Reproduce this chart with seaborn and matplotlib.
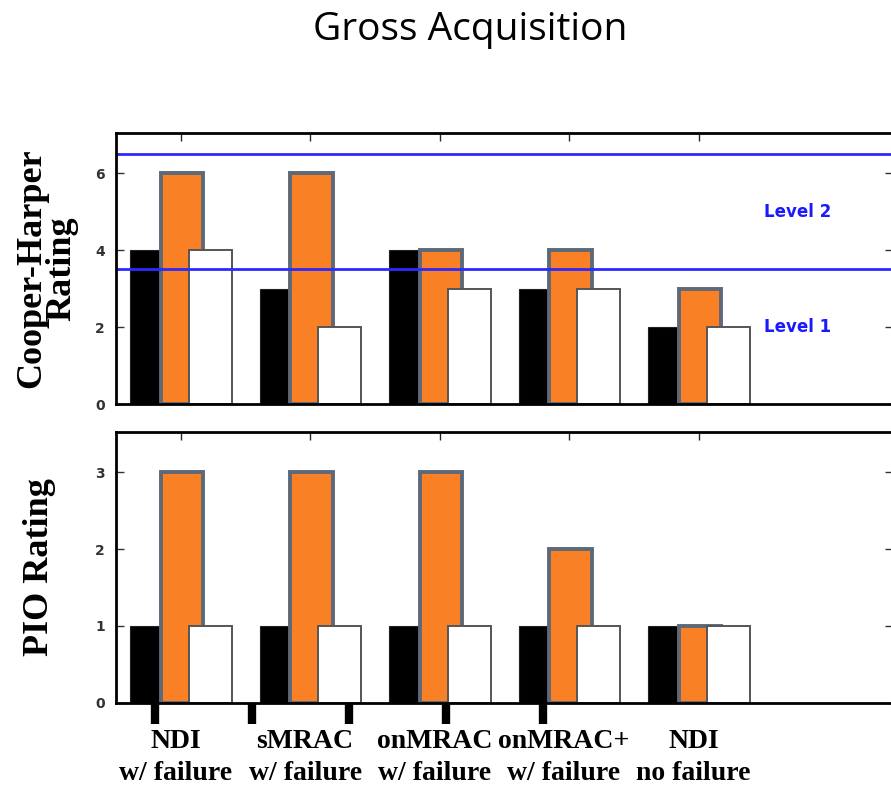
import numpy as np
import pandas as pd
import matplotlib
matplotlib.use("Agg")
import matplotlib.pyplot as plt
import seaborn as sns

# ---- data ----
methods = ["NDI\nw/ failure", "sMRAC\nw/ failure", "onMRAC\nw/ failure",
           "onMRAC+\nw/ failure", "NDI\nno failure"]
series = ["Pilot A", "Pilot B", "Pilot C"]
ch_a = [4, 3, 4, 3, 2]
ch_b = [6, 6, 4, 4, 3]
ch_c = [4, 2, 3, 3, 2]
pio_a = [1, 1, 1, 1, 1]
pio_b = [3, 3, 3, 2, 1]
pio_c = [1, 1, 1, 1, 1]
level_bounds = [3.5, 6.5]
level_names = ["Level 1", "Level 2"]
level_text_y = [2, 5]

# ---- styling ----
offsets = {"Pilot A": -0.225, "Pilot B": 0.01, "Pilot C": 0.228}
fills = {"Pilot A": "black", "Pilot B": "#fa8026", "Pilot C": "white"}
edges = {"Pilot A": "#222222", "Pilot B": "#5d6878", "Pilot C": "#555555"}
lws = {"Pilot A": 0.8, "Pilot B": 2.8, "Pilot C": 1.4}

sns.set_style("white")
plt.rcParams["font.family"] = ["DejaVu Sans"]


def long_table(a, b, c):
    rows = []
    for name, vals in zip(series, [a, b, c]):
        for i, v in enumerate(vals):
            rows.append({"group": i, "series": name, "value": v,
                         "pos": i + offsets[name]})
    return pd.DataFrame(rows)


def draw_bars(ax, df):
    for name in series:
        sub = df[df["series"] == name]
        sns.barplot(data=sub, x="pos", y="value", native_scale=True,
                    width=0.33, color=fills[name], edgecolor=edges[name],
                    linewidth=lws[name], errorbar=None, ax=ax,
                    saturation=1)


def style_axes(ax, yticks, ylim):
    ax.set_xlim(-0.5, 5.5)
    ax.set_ylim(*ylim)
    ax.set_yticks(yticks)
    ax.set_yticklabels([str(t) for t in yticks], fontsize=10,
                       fontweight="bold")
    ax.tick_params(axis="y", direction="in", length=6, width=1,
                   left=True, right=True, pad=8, colors="#333333")
    for sp in ax.spines.values():
        sp.set_visible(True)
        sp.set_linewidth(2)
        sp.set_color("black")
    top = ax.secondary_xaxis("top")
    top.set_xticks(range(len(methods)))
    top.set_xticklabels([])
    top.tick_params(direction="in", length=6, width=1)
    top.spines["top"].set_visible(False)
    ax.set_xlabel("")
    ax.set_ylabel("")


fig = plt.figure(figsize=(8.91, 7.88), dpi=100)
ax1 = fig.add_axes([0.1302, 0.4873, 0.872, 0.3439])
ax2 = fig.add_axes([0.1302, 0.1079, 0.872, 0.3439])

draw_bars(ax1, long_table(ch_a, ch_b, ch_c))
draw_bars(ax2, long_table(pio_a, pio_b, pio_c))

style_axes(ax1, [0, 2, 4, 6], (0, 7.04))
style_axes(ax2, [0, 1, 2, 3], (0, 3.52))

# handling-quality level boundaries
for yb in level_bounds:
    ax1.axhline(yb, color="#2a2aff", lw=2, zorder=1)
for name, yt in zip(level_names, level_text_y):
    ax1.text(4.76, yt, name, color="#1a1aff", fontsize=12,
             fontweight="bold", ha="center", va="center")

# upper panel: no bottom tick labels
ax1.set_xticks([])

# lower panel: labels near the group centres, thick marks set apart
label_pos = [i - 0.04 for i in range(len(methods))]
mark_pos = [-0.2 + 0.75 * i for i in range(len(methods))]
ax2.set_xticks(label_pos)
ax2.set_xticklabels(methods, fontsize=20, fontweight="bold",
                    family="Liberation Serif", linespacing=1.35,
                    color="black")
ax2.set_xticks(mark_pos, minor=True)
ax2.tick_params(axis="x", which="major", length=0, pad=19)
ax2.tick_params(axis="x", which="minor", direction="out", length=15,
                width=6, bottom=True, top=False, colors="black")

ax1.set_ylabel("Cooper-Harper\nRating", fontsize=26, fontweight="bold",
               family="Liberation Serif", linespacing=0.9, labelpad=12,
               color="black")
ax2.set_ylabel("PIO Rating", fontsize=26, fontweight="bold",
               family="Liberation Serif", labelpad=28, color="black")

fig.text(0.528, 0.962, "Gross Acquisition", ha="center", va="center",
         fontsize=28, family="Open Sans", color="black")

fig.savefig("out.png", dpi=100)
